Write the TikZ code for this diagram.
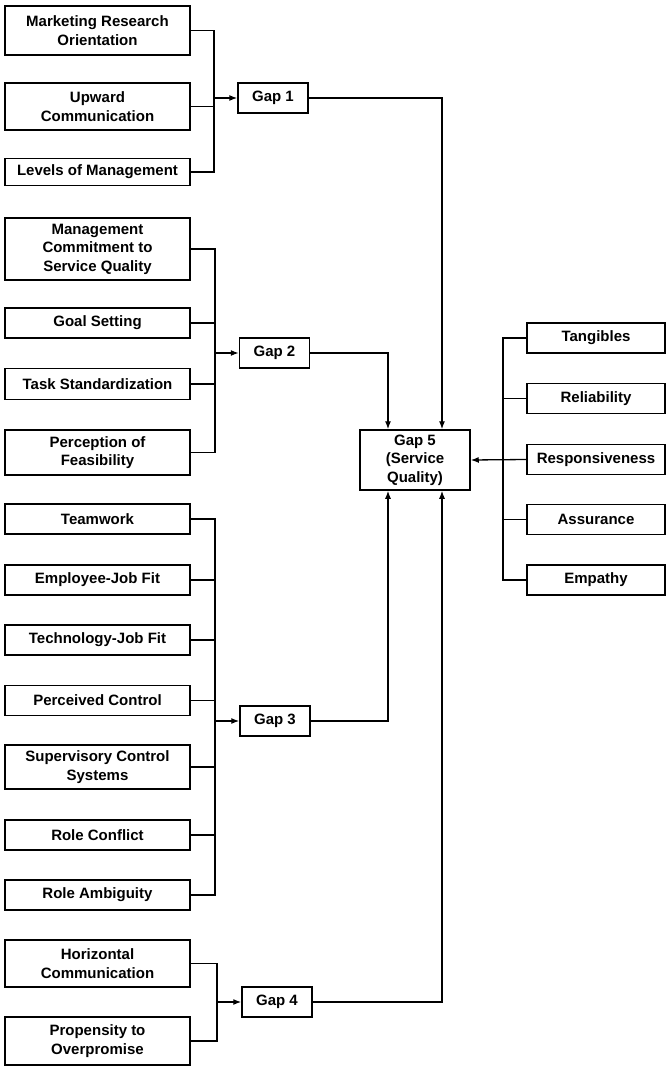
\documentclass[tikz,border=0pt]{standalone}
\usepackage{fontspec}
\setmainfont{Liberation Sans}
\usetikzlibrary{arrows.meta}

\begin{document}
\begin{tikzpicture}[x=1pt, y=-1pt,
	factor/.style={draw, line width=1.5pt, minimum width=185, align=center,
		inner sep=0pt, font=\fontsize{15}{18.5}\selectfont\bfseries},
	gapbox/.style={draw, line width=1.5pt, minimum width=70, minimum height=30,
		inner sep=0pt, font=\fontsize{15}{18.5}\selectfont\bfseries},
	dim/.style={draw, line width=1.5pt, minimum width=138, minimum height=30,
		inner sep=0pt, font=\fontsize{15}{18.5}\selectfont\bfseries},
	link/.style={line width=1.3pt},
	>={Latex[length=8pt, width=6pt]}]
	\useasboundingbox (0,0) rectangle (668,1067);
	% Gap 1 factors
	\node[factor, minimum height=49] (mro) at (97.5, 30.5) {Marketing Research\\Orientation};
	\node[factor, minimum height=47] (uc) at (97.5, 106.5) {Upward\\Communication};
	\node[factor, minimum height=27] (lom) at (97.5, 172) {Levels of Management};
	\node[gapbox] (gap1) at (273, 98) {Gap 1};
	\coordinate (bus1) at (214, 98);
	\draw[link] (mro.east) -| (bus1);
	\draw[link] (uc.east) -| (bus1);
	\draw[link] (lom.east) -| (bus1);
	\draw[link, ->] (bus1) -- (gap1.west);
	% Gap 2 factors
	\node[factor, minimum height=62] (mc) at (97.5, 249) {Management\\Commitment to\\Service Quality};
	\node[factor, minimum height=30] (gs) at (97.5, 323) {Goal Setting};
	\node[factor, minimum height=31] (ts) at (97.5, 384) {Task Standardization};
	\node[factor, minimum height=45] (pf) at (97.5, 452.5) {Perception of\\Feasibility};
	\node[gapbox] (gap2) at (274.5, 353) {Gap 2};
	\coordinate (bus2) at (215, 353);
	\draw[link] (mc.east) -| (bus2);
	\draw[link] (gs.east) -| (bus2);
	\draw[link] (ts.east) -| (bus2);
	\draw[link] (pf.east) -| (bus2);
	\draw[link, ->] (bus2) -- (gap2.west);
	% Gap 3 factors
	\node[factor, minimum height=30] (tw) at (97.5, 519) {Teamwork};
	\node[factor, minimum height=30] (ejf) at (97.5, 580) {Employee-Job Fit};
	\node[factor, minimum height=30] (tjf) at (97.5, 640) {Technology-Job Fit};
	\node[factor, minimum height=30] (pc) at (97.5, 700.5) {Perceived Control};
	\node[factor, minimum height=44] (scs) at (97.5, 767) {Supervisory Control\\Systems};
	\node[factor, minimum height=30] (rc) at (97.5, 835) {Role Conflict};
	\node[factor, minimum height=30] (ra) at (97.5, 895) {Role Ambiguity};
	\node[gapbox] (gap3) at (275, 721) {Gap 3};
	\coordinate (bus3) at (215, 721);
	\draw[link] (tw.east) -| (bus3);
	\draw[link] (ejf.east) -| (bus3);
	\draw[link] (tjf.east) -| (bus3);
	\draw[link] (pc.east) -| (bus3);
	\draw[link] (scs.east) -| (bus3);
	\draw[link] (rc.east) -| (bus3);
	\draw[link] (ra.east) -| (bus3);
	\draw[link, ->] (bus3) -- (gap3.west);
	% Gap 4 factors
	\node[factor, minimum height=47] (hc) at (97.5, 963.5) {Horizontal\\Communication};
	\node[factor, minimum height=48] (po) at (97.5, 1041) {Propensity to\\Overpromise};
	\node[gapbox] (gap4) at (277, 1002) {Gap 4};
	\coordinate (bus4) at (217, 1002);
	\draw[link] (hc.east) -| (bus4);
	\draw[link] (po.east) -| (bus4);
	\draw[link, ->] (bus4) -- (gap4.west);
	% Gap 5 and its dimensions
	\node[gapbox, minimum width=110, minimum height=60, align=center] (gap5) at (415, 460)
		{Gap 5\\(Service\\Quality)};
	\draw[link, ->] (gap1.east) -| ([xshift=27pt]gap5.north);
	\draw[link, ->] (gap2.east) -| ([xshift=-27pt]gap5.north);
	\draw[link, ->] (gap3.east) -| ([xshift=-27pt]gap5.south);
	\draw[link, ->] (gap4.east) -| ([xshift=27pt]gap5.south);
	\node[dim] (tang) at (596, 338) {Tangibles};
	\node[dim] (rel) at (596, 398.5) {Reliability};
	\node[dim] (resp) at (596, 459.5) {Responsiveness};
	\node[dim] (ass) at (596, 519.5) {Assurance};
	\node[dim] (emp) at (596, 580) {Empathy};
	\coordinate (rbus) at (503, 338);
	\draw[link] (tang.west) -- (rbus) |- (emp.west);
	\draw[link] (rel.west) -- (rel.west -| rbus);
	\draw[link] (ass.west) -- (ass.west -| rbus);
	\draw[link, ->] (resp.west) -- (gap5.east);
\end{tikzpicture}
\end{document}
